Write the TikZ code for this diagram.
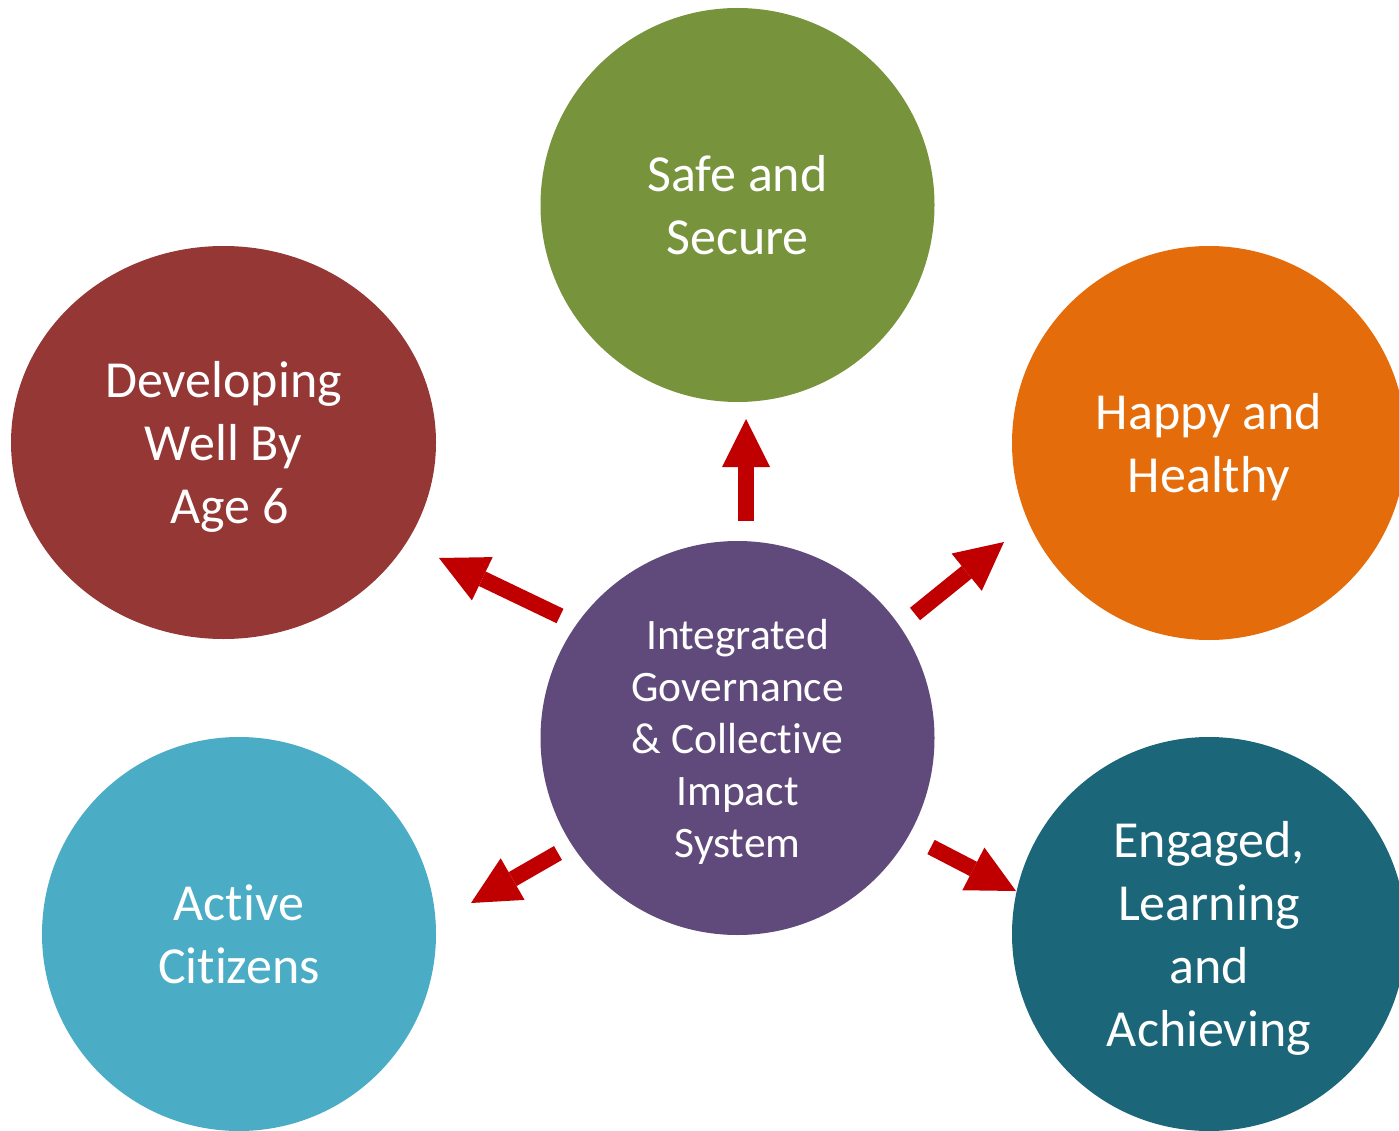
\documentclass[tikz,border=0pt]{standalone}
\usepackage{fontspec}
\setmainfont{Carlito}[Ligatures=NoCommon]
\usetikzlibrary{arrows.meta,shapes.geometric}

\definecolor{hubpurple}{HTML}{604A7B}
\definecolor{safegreen}{HTML}{77933C}
\definecolor{happyorange}{HTML}{E46C0A}
\definecolor{devred}{HTML}{953735}
\definecolor{activeblue}{HTML}{4BACC6}
\definecolor{engagedteal}{HTML}{1B6678}
\definecolor{arrowred}{HTML}{C00000}

\tikzset{
	bubble/.style={circle, fill=#1, minimum size=394pt, inner sep=0pt, text depth=0pt, text=white, align=center, font=\fontsize{52}{63}\selectfont},
	flow/.style={draw=arrowred, line width=16pt, -{Triangle[width=48pt,length=48pt,line width=0pt]}},
}

\begin{document}
\begin{tikzpicture}[x=1pt, y=-1pt]
		%%%%% START %%%%%
		\useasboundingbox (0,0) rectangle (1399,1131);
		\clip (0,0) rectangle (1399,1131);
		
		\node[bubble=hubpurple, font=\fontsize{43.5}{52}\selectfont] (hub) at (737.5,738) {Integrated\\Governance\\\& Collective\\Impact\\System};
		
		\node[bubble=safegreen] (safe) at (737.5,205) {Safe and\\Secure};
		\node[bubble=happyorange] (happy) at (1209,443) {Happy and\\Healthy};
		\node[bubble=devred, ellipse, minimum width=425pt, minimum height=393pt] (develop) at (223.5,442.5) {Developing\\Well By\\\hspace*{0.23em}Age 6};
		\node[bubble=activeblue] (active) at (239,934) {Active\\Citizens};
		\node[bubble=engagedteal] (engaged) at (1209,934) {Engaged,\\Learning\\and\\Achieving};
		
		% arrow ends
		\coordinate (upS) at (746,521);
		\coordinate (upE) at (746,419);
		\coordinate (ulS) at (560,616);
		\coordinate (ulE) at (439,558);
		\coordinate (urS) at (915,614);
		\coordinate (urE) at (1004,542);
		\coordinate (llS) at (558,853);
		\coordinate (llE) at (471,903);
		\coordinate (lrS) at (931,847);
		\coordinate (lrE) at (1016,891);
		
		\draw[flow] (upS) -- (upE);
		\draw[flow] (ulS) -- (ulE);
		\draw[flow] (urS) -- (urE);
		\draw[flow] (llS) -- (llE);
		\draw[flow] (lrS) -- (lrE);
		
		%%%%% END %%%%%
\end{tikzpicture}
\end{document}
